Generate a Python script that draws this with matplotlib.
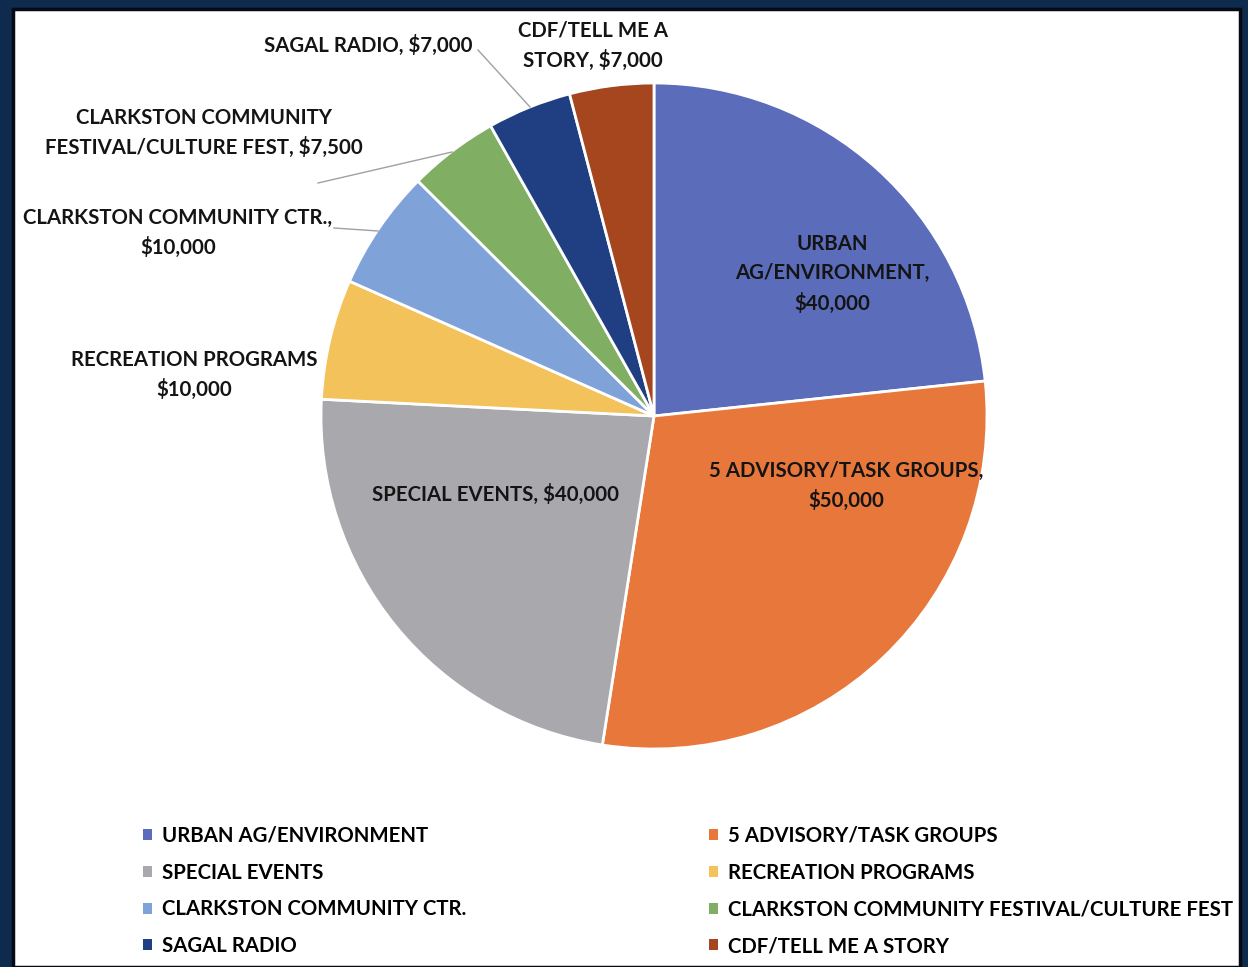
import matplotlib
matplotlib.use("Agg")
import matplotlib.pyplot as plt
from matplotlib.patches import Rectangle, Patch

categories = ["URBAN AG/ENVIRONMENT", "5 ADVISORY/TASK GROUPS", "SPECIAL EVENTS",
              "RECREATION PROGRAMS", "CLARKSTON COMMUNITY CTR.",
              "CLARKSTON COMMUNITY FESTIVAL/CULTURE FEST", "SAGAL RADIO", "CDF/TELL ME A STORY"]
values = [40000, 50000, 40000, 10000, 10000, 7500, 7000, 7000]
label_texts = ["URBAN\nAG/ENVIRONMENT,\n$40,000",
               "5 ADVISORY/TASK GROUPS,\n$50,000",
               "SPECIAL EVENTS, $40,000",
               "RECREATION PROGRAMS\n$10,000",
               "CLARKSTON COMMUNITY CTR.,\n$10,000",
               "CLARKSTON COMMUNITY\nFESTIVAL/CULTURE FEST, $7,500",
               "SAGAL RADIO, $7,000",
               "CDF/TELL ME A\nSTORY, $7,000"]
colors = ["#5A6CBA", "#E8773B", "#A9A9AD", "#F4C25A", "#7FA3D9", "#80AE62", "#1F3F82", "#A5461F"]

FONT = ["Lato", "DejaVu Sans"]
FS = 14.7
W, H = 1248, 967
fig = plt.figure(figsize=(W / 100, H / 100), dpi=100)
fig.patch.set_facecolor("#0e2a4c")
fig.patches.append(Rectangle((13 / W, 0), (1240 - 13) / W, (H - 9) / H, transform=fig.transFigure,
                             facecolor="white", edgecolor="#050a14", linewidth=2.5, zorder=-5))

cx, cy, r = 654, 416, 333
ax = fig.add_axes([(cx - r) / W, 1 - (cy + r) / H, 2 * r / W, 2 * r / H])
ax.set_zorder(2)
wedges, _ = ax.pie(values, colors=colors, startangle=90, counterclock=False, radius=1,
                   wedgeprops=dict(edgecolor="white", linewidth=2))
ax.set_xlim(-1, 1)
ax.set_ylim(-1, 1)
ax.set_aspect("equal")
ax.axis("off")

def px(x, y):
    return ((x - cx) / r, (cy - y) / r)

# label positions (pixel centres in the reference)
label_pos = [(832, 274, "center"), (846, 486, "center"), (496, 494, "center"),
             (194, 375, "center"), (178, 233, "center"), (204, 133, "center"),
             (472, 45, "right"), (593, 46, "center")]
for txt, (x, y, ha) in zip(label_texts, label_pos):
    X, Y = px(x, y)
    ax.text(X, Y, txt, ha=ha, va="center", fontsize=FS, fontweight="bold",
            family=FONT, color="#141414", linespacing=1.55, clip_on=False)

# leader lines
leaders = [((318, 183), (452, 152)), ((334, 228), (378, 231)), ((478, 50), (530, 107))]
for (x0, y0), (x1, y1) in leaders:
    X0, Y0 = px(x0, y0)
    X1, Y1 = px(x1, y1)
    ax.plot([X0, X1], [Y0, Y1], color="#a0a0a0", linewidth=1, clip_on=False)

# legend: two columns
order1 = [0, 2, 4, 6]
order2 = [1, 3, 5, 7]
def handles(idx):
    return [Patch(facecolor=colors[i], edgecolor="none", label=categories[i]) for i in idx]

leg_kw = dict(frameon=False, prop=dict(family=FONT, weight="bold", size=FS),
              handlelength=0.45, handleheight=0.45, handletextpad=0.5, labelspacing=0.82,
              loc="upper left", borderaxespad=0, borderpad=0)
fig.legend(handles=handles(order1), bbox_to_anchor=(143 / W, 1 - 826 / H), **leg_kw)
fig.legend(handles=handles(order2), bbox_to_anchor=(709 / W, 1 - 826 / H), **leg_kw)

fig.savefig("out.png", dpi=100, facecolor=fig.get_facecolor())
